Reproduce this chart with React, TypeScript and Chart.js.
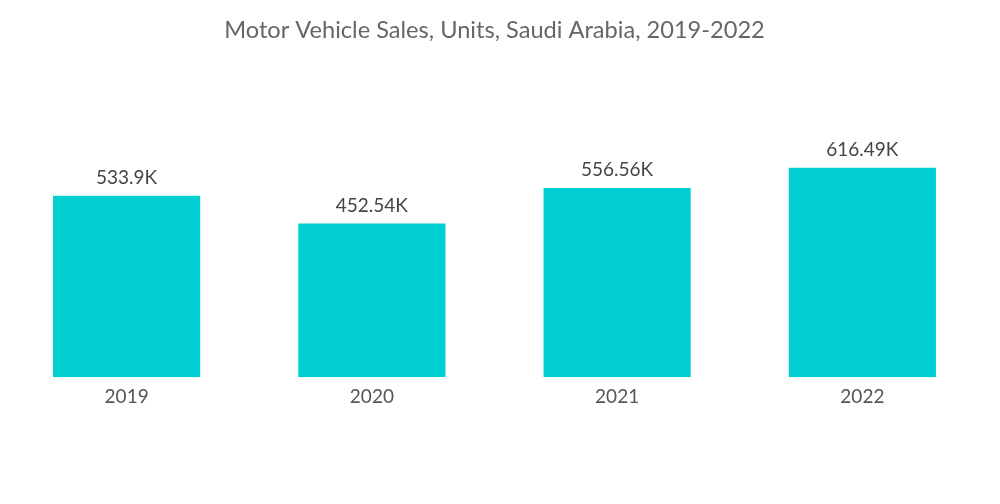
import React, { useEffect, useRef } from "react";
import { Chart, registerables } from "chart.js";

Chart.register(...registerables);

const categories = ["2019", "2020", "2021", "2022"];
const salesK = [533.9, 452.54, 556.56, 616.49];
const valueLabels = ["533.9K", "452.54K", "556.56K", "616.49K"];
const titleText = "Motor Vehicle Sales, Units, Saudi Arabia, 2019-2022";

const labelPlugin = {
  id: "barValueLabels",
  afterDatasetsDraw(chart: any) {
    const ctx = chart.ctx;
    const meta = chart.getDatasetMeta(0);
    ctx.save();
    ctx.font = "19px Lato";
    ctx.fillStyle = "#444444";
    ctx.textAlign = "center";
    ctx.textBaseline = "middle";
    meta.data.forEach((bar: any, i: number) => {
      ctx.fillText(valueLabels[i], bar.x, bar.y - 18);
    });
    ctx.restore();
  },
};

export default function App() {
  const ref = useRef<HTMLCanvasElement | null>(null);
  useEffect(() => {
    if (!ref.current) return;
    const chart = new Chart(ref.current, {
      type: "bar",
      data: {
        labels: categories,
        datasets: [
          {
            data: salesK,
            backgroundColor: "#00CED1",
            barPercentage: 0.6,
            categoryPercentage: 1,
          },
        ],
      },
      options: {
        animation: false,
        responsive: true,
        maintainAspectRatio: false,
        layout: { padding: { left: 4, right: 15, top: 0, bottom: 96 } },
        plugins: {
          legend: { display: false },
          tooltip: { enabled: false },
          title: {
            display: true,
            text: titleText,
            color: "#666666",
            font: { family: "Lato", size: 23.6, weight: "normal" },
            padding: { top: 16, bottom: 95 },
          },
        },
        scales: {
          x: {
            grid: { display: false },
            border: { display: false },
            ticks: {
              color: "#555555",
              font: { family: "Lato", size: 19 },
              padding: 0,
            },
          },
          y: {
            display: false,
            min: 0,
            max: 700,
          },
        },
      },
      plugins: [labelPlugin],
    });
    return () => chart.destroy();
  }, []);
  return (
    <div style={{ position: "fixed", left: 0, top: 0, width: 1000, height: 504, background: "#ffffff" }}>
      <canvas ref={ref} />
    </div>
  );
}
